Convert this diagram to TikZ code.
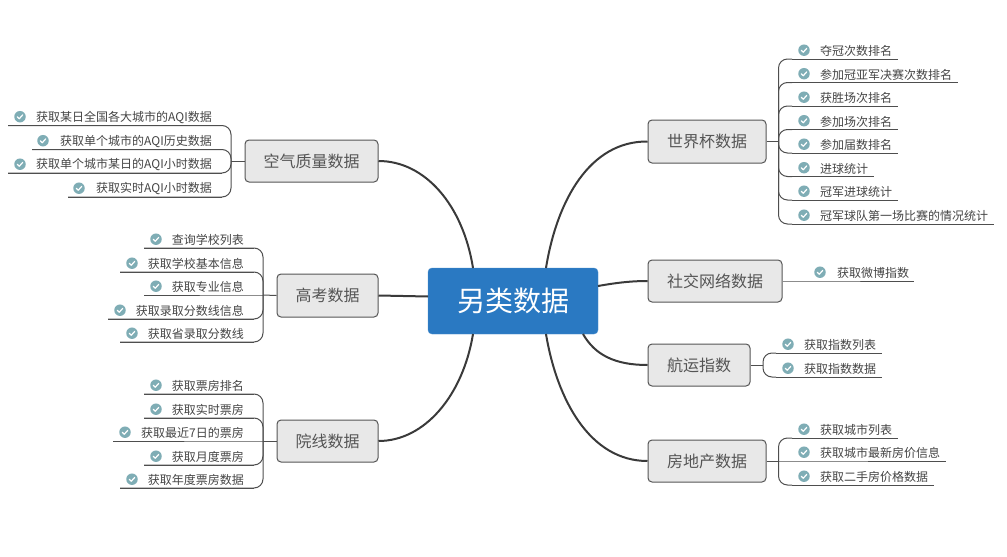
\documentclass[tikz,border=0pt]{standalone}
\usepackage{fontspec}
\setmainfont{Noto Sans CJK SC}
\definecolor{conn}{HTML}{3A3A3A}
\definecolor{leaftext}{HTML}{444444}
\definecolor{iconc}{HTML}{7FADB5}
\definecolor{boxfill}{HTML}{E8E8E8}
\definecolor{boxline}{HTML}{555555}
\definecolor{boxtext}{HTML}{555555}
\definecolor{rootfill}{HTML}{2A79C2}
\tikzset{
  rootbox/.style={draw=rootfill!85!white,fill=rootfill,rounded corners=4pt,inner sep=0pt,text=white,font=\fontsize{28}{32}\selectfont},
  branchbox/.style={draw=boxline,line width=1pt,fill=boxfill,rounded corners=4pt,inner sep=0pt,text=boxtext,font=\fontsize{16}{20}\selectfont},
  leaflabel/.style={inner sep=0pt,text=leaftext,font=\fontsize{12}{14}\selectfont},
  trunk/.style={draw=conn,line width=2pt},
  twig/.style={draw=conn!90!white,line width=1pt},
  icondot/.style={circle,fill=iconc,inner sep=0pt,minimum size=11.5pt},
  tick/.style={draw=white,line width=1.2pt,line cap=round,line join=round}
}
% #1 id, #2 spine coordinate, #3 underline start x, #4 underline end x, #5 underline y,
% #6 icon x, #7 anchor of label, #8 label x, #9 text
\newcommand{\twigleaf}[9]{
  \coordinate (#1a) at (#3,#5);
  \coordinate (#1b) at (#4,#5);
  \draw[twig,rounded corners=9pt] (#2) |- (#1a);
  \draw[twig] (#1a) -- (#1b);
  \node[icondot] (#1i) at (#6,#5-8.8) {};
  \draw[tick] ([shift={(-2.6,0.2)}]#1i.center) -- ([shift={(-0.7,2)}]#1i.center) -- ([shift={(2.7,-1.8)}]#1i.center);
  \node[leaflabel,anchor=#7] (#1t) at (#8,#5-8) {#9};
}
% same, leaf on the spine's own level: straight twig
\newcommand{\flatleaf}[9]{
  \coordinate (#1a) at (#3,#5);
  \coordinate (#1b) at (#4,#5);
  \draw[twig] (#2) -- (#1a) -- (#1b);
  \node[icondot] (#1i) at (#6,#5-8.8) {};
  \draw[tick] ([shift={(-2.6,0.2)}]#1i.center) -- ([shift={(-0.7,2)}]#1i.center) -- ([shift={(2.7,-1.8)}]#1i.center);
  \node[leaflabel,anchor=#7] (#1t) at (#8,#5-8) {#9};
}
\begin{document}
\begin{tikzpicture}[x=1pt,y=-1pt]
\useasboundingbox (0,0) rectangle (1007,557);

% main nodes
\node[rootbox,minimum width=170pt,minimum height=66pt] (root) at (513,301) {\raisebox{-1.5pt}{另类数据}};
\node[branchbox,minimum width=118pt,minimum height=43pt] (wc) at (707,141.5) {世界杯数据};
\node[branchbox,minimum width=134pt,minimum height=42pt] (soc) at (715,281) {社交网络数据};
\node[branchbox,minimum width=102pt,minimum height=42pt] (ship) at (699,365) {航运指数};
\node[branchbox,minimum width=118pt,minimum height=42pt] (est) at (707,461) {房地产数据};
\node[branchbox,minimum width=133pt,minimum height=42pt] (air) at (311.5,161) {空气质量数据};
\node[branchbox,minimum width=101pt,minimum height=43pt] (gk) at (327.5,295.5) {高考数据};
\node[branchbox,minimum width=101pt,minimum height=42pt] (cin) at (327.5,441) {院线数据};

% root attachment points
\coordinate (rTL) at (473,268);
\coordinate (rTR) at (546,268);
\coordinate (rBL) at (473,334);
\coordinate (rBR) at (546,334);
\coordinate (rBS) at (583,334);
\coordinate (rL) at (428,296.5);
\coordinate (rR) at (598,286);

\draw[trunk] (air.east) .. controls (425,161) and (463,205) .. (rTL);
\draw[trunk] (gk.east) -- (rL);
\draw[trunk] (cin.east) .. controls (425,441) and (463,395) .. (rBL);
\draw[trunk] (rTR) .. controls (557,200) and (590,141) .. (wc.west);
\draw[trunk] (rR) .. controls (615,283) and (630,281) .. (soc.west);
\draw[trunk] (rBS) .. controls (595,355) and (615,365) .. (ship.west);
\draw[trunk] (rBR) .. controls (557,400) and (590,461) .. (est.west);

% spine points
\coordinate (wcS) at (778.5,141.5);
\coordinate (shipS) at (763,365);
\coordinate (estS) at (778.5,461);
\coordinate (airS) at (231,161);
\coordinate (gkS) at (263,295);
\coordinate (cinS) at (263,441);

% stems
\draw[twig] (wc.east) -- (wcS);
\draw[twig] (ship.east) -- (shipS);
\draw[twig] (est.east) -- (estS);
\draw[twig] (air.west) -- (airS);
\draw[twig] (gk.west) -- (gkS);
\draw[twig] (cin.west) -- (cinS);

% world cup
\twigleaf{w1}{wcS}{792}{898}{59}{804}{west}{820}{夺冠次数排名}
\twigleaf{w2}{wcS}{792}{958}{82.5}{804}{west}{820}{参加冠亚军决赛次数排名}
\twigleaf{w3}{wcS}{792}{898}{106}{804}{west}{820}{获胜场次排名}
\twigleaf{w4}{wcS}{792}{898}{129.5}{804}{west}{820}{参加场次排名}
\twigleaf{w5}{wcS}{792}{898}{153}{804}{west}{820}{参加届数排名}
\twigleaf{w6}{wcS}{792}{874}{176.5}{804}{west}{820}{进球统计}
\twigleaf{w7}{wcS}{792}{898}{200}{804}{west}{820}{冠军进球统计}
\twigleaf{w8}{wcS}{792}{994}{224}{804}{west}{820}{冠军球队第一场比赛的情况统计}

% social
\coordinate (s1a) at (808,281);
\coordinate (s1b) at (914,281);
\draw[twig] (soc.east) -- (s1a) -- (s1b);
\node[icondot] (s1i) at (820,272.2) {};
\draw[tick] ([shift={(-2.6,0.2)}]s1i.center) -- ([shift={(-0.7,2)}]s1i.center) -- ([shift={(2.7,-1.8)}]s1i.center);
\node[leaflabel,anchor=west] (s1t) at (837,273) {获取微博指数};

% shipping
\twigleaf{h1}{shipS}{776}{882}{353}{788}{west}{804}{获取指数列表}
\twigleaf{h2}{shipS}{776}{882}{377}{788}{west}{804}{获取指数数据}

% real estate
\twigleaf{e1}{estS}{792}{898}{438}{804}{west}{820}{获取城市列表}
\flatleaf{e2}{estS}{792}{946}{461}{804}{west}{820}{获取城市最新房价信息}
\twigleaf{e3}{estS}{792}{934}{485}{804}{west}{820}{获取二手房价格数据}

% air quality
\twigleaf{a1}{airS}{8}{222}{125.5}{20}{east}{212}{获取某日全国各大城市的AQI数据}
\twigleaf{a2}{airS}{32}{222}{149.5}{43}{east}{212}{获取单个城市的AQI历史数据}
\twigleaf{a3}{airS}{8}{222}{173}{20}{east}{212}{获取单个城市某日的AQI小时数据}
\twigleaf{a4}{airS}{68}{222}{197}{79}{east}{212}{获取实时AQI小时数据}

% gaokao
\twigleaf{g1}{gkS}{144}{254}{248}{156}{east}{244}{查询学校列表}
\twigleaf{g2}{gkS}{120}{254}{272}{132}{east}{244}{获取学校基本信息}
\flatleaf{g3}{gkS}{254}{144}{295}{156}{east}{244}{获取专业信息}
\twigleaf{g4}{gkS}{108}{254}{319}{120}{east}{244}{获取录取分数线信息}
\twigleaf{g5}{gkS}{120}{254}{342}{132}{east}{244}{获取省录取分数线}

% cinema
\twigleaf{c1}{cinS}{144}{254}{394}{156}{east}{244}{获取票房排名}
\twigleaf{c2}{cinS}{144}{254}{418}{156}{east}{244}{获取实时票房}
\flatleaf{c3}{cinS}{254}{113}{441}{125}{east}{244}{获取最近7日的票房}
\twigleaf{c4}{cinS}{144}{254}{465}{156}{east}{244}{获取月度票房}
\twigleaf{c5}{cinS}{120}{254}{488}{132}{east}{244}{获取年度票房数据}
\end{tikzpicture}
\end{document}
